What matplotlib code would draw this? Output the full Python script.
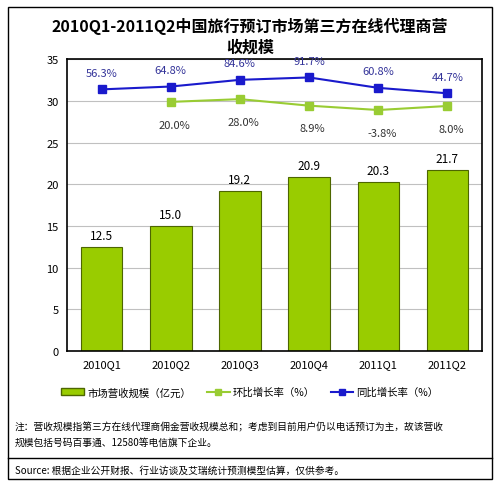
import matplotlib.pyplot as plt
from matplotlib.patches import Rectangle, Patch
from matplotlib.lines import Line2D

plt.rcParams['font.family'] = ['Noto Sans CJK SC', 'DejaVu Sans']

quarters = ["2010Q1", "2010Q2", "2010Q3", "2010Q4", "2011Q1", "2011Q2"]
revenue = [12.5, 15.0, 19.2, 20.9, 20.3, 21.7]
qoq = [None, 20.0, 28.0, 8.9, -3.8, 8.0]
yoy = [56.3, 64.8, 84.6, 91.7, 60.8, 44.7]

fig = plt.figure(figsize=(5, 4.89), dpi=100)
fig.patches.append(Rectangle((0.016, 0.018), 0.968, 0.965, transform=fig.transFigure,
                             fill=False, edgecolor="black", linewidth=1))

ax = fig.add_axes([0.134, 0.280, 0.830, 0.597])
x = range(len(quarters))
ax.bar(x, revenue, width=0.6, color="#99cc00", edgecolor="#4d6600", linewidth=0.8, zorder=2)
for i, v in enumerate(revenue):
    ax.text(i, v + 0.6, f"{v:.1f}", ha="center", va="bottom", fontsize=8.5)
ax.set_ylim(0, 35)
ax.set_xlim(-0.5, 5.5)
ax.set_yticks(range(0, 36, 5))
ax.set_xticks(list(x))
ax.set_xticklabels(quarters, fontsize=8)
ax.tick_params(labelsize=8, length=0, pad=6)
ax.grid(axis="y", color="#c0c0c0", linewidth=0.8, zorder=0)
for s in ax.spines.values():
    s.set_linewidth(1.2)
fig.text(0.5, 0.925, "2010Q1-2011Q2中国旅行预订市场第三方在线代理商营\n收规模", fontsize=11.5,
         fontweight="bold", ha="center", va="center", linespacing=1.3)

# rate lines on hidden axes
ax_b = ax.twinx()
ax_b.set_ylim(-720, 146)
ax_b.plot(x, yoy, color="#1a1acc", marker="s", markersize=6, linewidth=1.5)
for i, v in enumerate(yoy):
    ax_b.text(i, v + 40, f"{v:.1f}%", ha="center", color="#333399", fontsize=8)
ax_b.axis("off")

ax_g = ax.twinx()
ax_g.set_ylim(-709, 145)
xg = [i for i in x if qoq[i] is not None]
vg = [qoq[i] for i in xg]
ax_g.plot(xg, vg, color="#99cc33", marker="s", markersize=6, linewidth=1.5)
for i, v in zip(xg, vg):
    ax_g.text(i + 0.05, v - 75, f"{v:.1f}%", ha="center", color="#333333", fontsize=8)
ax_g.axis("off")

handles = [Patch(facecolor="#99cc00", edgecolor="#4d6600"),
           Line2D([], [], color="#99cc33", marker="s", markersize=4),
           Line2D([], [], color="#1a1acc", marker="s", markersize=4)]
fig.legend(handles, ["市场营收规模（亿元）", "环比增长率（%）", "同比增长率（%）"],
           loc="center", bbox_to_anchor=(0.5, 0.196), ncol=3, frameon=False,
           fontsize=7.5, handlelength=2.2, columnspacing=1.5, handletextpad=0.3)

fig.text(0.03, 0.11, "注：营收规模指第三方在线代理商佣金营收规模总和；考虑到目前用户仍以电话预订为主，故该营收\n规模包括号码百事通、12580等电信旗下企业。",
         fontsize=7, va="center", linespacing=1.6)
fig.add_artist(Line2D([0.016, 0.984], [0.062, 0.062], color="black", linewidth=1))
fig.text(0.03, 0.037, "Source: 根据企业公开财报、行业访谈及艾瑞统计预测模型估算，仅供参考。", fontsize=7, va="center")

fig.savefig("out.png", dpi=100)
